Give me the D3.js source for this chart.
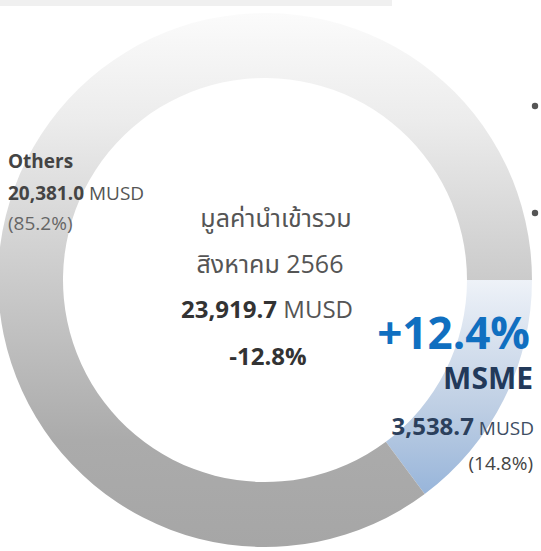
<!DOCTYPE html>
<html>
<head>
<meta charset="utf-8">
<script src="https://cdn.jsdelivr.net/npm/d3@7"></script>
<style>
  body { margin: 0; background: #fff; }
  svg text { font-family: "Open Sans", "Noto Sans", "Noto Sans Thai", sans-serif; }
</style>
</head>
<body>
<svg id="chart" width="541" height="551"></svg>
<script>
const categories = ['MSME', 'Others'];
const values = [3538.7, 20381.0];
const shares = ['(14.8%)', '(85.2%)'];
const totalLines = ['มูลค่านำเข้ารวม', 'สิงหาคม 2566'];
const totalValue = '23,919.7';
const totalChange = '-12.8%';
const msmeChange = '+12.4%';

const chart = {
  cx: 265, cy: 280,
  outer: 267, inner: 202
};

const svg = d3.select('#chart');
const defs = svg.append('defs');

// gradients live in the ring group's own space (centre at 0,0)
const addGradient = (id, stops) => {
  const g = defs.append('linearGradient')
    .attr('id', id)
    .attr('gradientUnits', 'userSpaceOnUse')
    .attr('x1', 0).attr('x2', 0)
    .attr('y1', -chart.outer)
    .attr('y2', chart.outer);
  stops.forEach(([o, c]) => {
    g.append('stop').attr('offset', o).attr('stop-color', c);
  });
};

addGradient('grayGrad', [[0, '#fbfbfb'], [0.2, '#ececec'], [0.5, '#cbcbcb'], [0.8, '#ababab'], [1, '#a6a6a6']]);
addGradient('blueGrad', [[0, '#f4f7fb'], [0.5, '#eef2f8'], [0.75, '#bccde3'], [0.92, '#93b2d9'], [1, '#8fafd8']]);

// light strip at the very top
svg.append('rect')
  .attr('x', 0).attr('y', 0)
  .attr('width', 392).attr('height', 6)
  .attr('fill', '#f0f0f0');

const pie = d3.pie()
  .sort(null)
  .startAngle(Math.PI / 2)
  .endAngle(Math.PI / 2 + 2 * Math.PI);

const arc = d3.arc()
  .innerRadius(chart.inner)
  .outerRadius(chart.outer);

const slices = pie(values);

svg.append('g')
  .attr('transform', 'translate(' + chart.cx + ',' + chart.cy + ')')
  .selectAll('path')
  .data(slices)
  .enter().append('path')
  .attr('d', arc)
  .attr('fill', (d, i) => { return i === 0 ? 'url(#blueGrad)' : 'url(#grayGrad)'; });

// bullets on the right
[106, 213].forEach((y) => {
  svg.append('circle').attr('cx', 535).attr('cy', y).attr('r', 3.2).attr('fill', '#555');
});

// Others label
const others = svg.append('g');
others.append('text')
  .attr('x', 8).attr('y', 168)
  .attr('font-size', 19).attr('font-weight', 700).attr('fill', '#444')
  .text(categories[1]);
const othersVal = others.append('text')
  .attr('x', 8).attr('y', 200)
  .attr('font-size', 19).attr('fill', '#444');
othersVal.append('tspan').attr('font-weight', 700).text(d3.format(',.1f')(values[1]));
othersVal.append('tspan').attr('fill', '#555').text(' MUSD');
others.append('text')
  .attr('x', 8).attr('y', 230)
  .attr('font-size', 19).attr('fill', '#666')
  .text(shares[1]);

// centre
const centre = svg.append('g').attr('text-anchor', 'middle');
const lineX = [276, 270];
totalLines.forEach((t, i) => {
  centre.append('text')
    .attr('x', lineX[i]).attr('y', 227 + i * 46)
    .attr('font-size', 25).attr('fill', '#555')
    .text(t);
});
const tot = centre.append('text')
  .attr('x', 267).attr('y', 318)
  .attr('font-size', 24).attr('fill', '#333');
tot.append('tspan').attr('font-weight', 700).text(totalValue);
tot.append('tspan').attr('fill', '#555').text(' MUSD');
centre.append('text')
  .attr('x', 268).attr('y', 365)
  .attr('font-size', 24).attr('font-weight', 700).attr('fill', '#333')
  .text(totalChange);

// MSME label
const msme = svg.append('g').attr('text-anchor', 'end');
msme.append('text')
  .attr('x', 530).attr('y', 349)
  .attr('font-size', 44).attr('font-weight', 700).attr('fill', '#106fc0')
  .text(msmeChange);
msme.append('text')
  .attr('x', 533).attr('y', 389)
  .attr('font-size', 30).attr('font-weight', 700).attr('fill', '#22395a')
  .text(categories[0]);
const msmeVal = msme.append('text')
  .attr('x', 534).attr('y', 435)
  .attr('font-size', 24).attr('fill', '#2b3f5c');
msmeVal.append('tspan').attr('font-weight', 700).text(d3.format(',.1f')(values[0]));
msmeVal.append('tspan').attr('font-size', 19).attr('fill', '#3d4d63').text(' MUSD');
msme.append('text')
  .attr('x', 533).attr('y', 470)
  .attr('font-size', 19).attr('fill', '#444')
  .text(shares[0]);
</script>
</body>
</html>
